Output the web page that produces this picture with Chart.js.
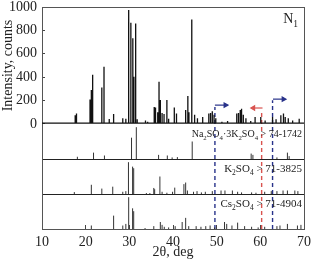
<!DOCTYPE html>
<html>
<head>
<meta charset="utf-8">
<script src="https://cdn.jsdelivr.net/npm/chart.js@4/dist/chart.umd.min.js"></script>
<style>
  html, body { margin: 0; padding: 0; background: #fff; }
  #wrap { width: 312px; height: 261px; }
</style>
</head>
<body>
<div id="wrap"><canvas id="xrd"></canvas></div>
<script>
// 実測パターン N1 (ピーク位置 2θ と強度 counts)
const specPos = [12.0, 17.6, 17.9, 21.0, 21.3, 21.6, 23.7, 24.2, 25.4, 26.4, 28.5, 29.2,
  29.85, 30.35, 30.8, 31.05, 31.45, 31.8, 33.7, 34.2, 35.7, 36.0, 36.5, 36.8, 37.1, 37.5,
  37.95, 38.6, 39.0, 40.3, 40.8, 42.9, 43.4, 43.65, 44.3, 44.95, 45.6, 46.8, 48.2, 48.6,
  49.0, 49.4, 49.8, 51.2, 52.5, 54.6, 55.0, 55.4, 55.7, 56.1, 56.7, 57.8, 58.8, 60.1,
  61.1, 62.8, 63.6, 64.7, 65.3, 65.7, 66.4, 67.4, 68.9];
const specInt = [12, 75, 90, 210, 290, 420, 313, 490, 43, 85, 50, 45,
  975, 866, 732, 404, 860, 40, 30, 20, 145, 140, 100, 362, 205, 95,
  85, 205, 45, 140, 90, 120, 240, 100, 894, 80, 50, 60, 90, 95,
  110, 80, 50, 20, 25, 90, 95, 120, 130, 80, 50, 25, 60, 60,
  30, 60, 40, 75, 90, 60, 50, 30, 45];
const specBase = 8;

// 標準パターン (PDF カード)
const naPos = [18.1, 21.8, 24.3, 30.5, 31.6, 36.7, 38.7, 39.8, 41.0, 44.4, 57.9, 58.3, 63.8, 66.2, 66.6];
const naInt = [7, 20, 11, 67, 100, 13, 11, 5, 6, 55, 17, 13, 5, 20, 9];

const kPos = [17.4, 21.3, 23.7, 26.2, 28.5, 29.2, 29.8, 30.75, 31.0, 33.9, 34.7, 35.6, 35.8,
  37.0, 37.5, 38.6, 39.9, 40.4, 42.5, 42.9, 43.3, 44.7, 45.5, 46.5, 47.4, 49.0, 51.0, 51.9,
  53.6, 54.8, 55.7, 58.0, 59.0, 61.0, 62.5, 63.8, 65.2, 66.2, 67.9, 68.6];
const kInt = [6, 29, 17, 23, 7, 9, 100, 86, 81, 3, 3, 19, 15,
  55, 7, 4, 7, 20, 31, 36, 11, 7, 9, 5, 7, 9, 11, 11,
  11, 7, 5, 5, 4, 7, 9, 9, 11, 11, 11, 9];

const csPos = [21.3, 26.4, 28.5, 29.2, 29.85, 30.75, 31.0, 33.6, 35.6, 37.1, 37.5, 38.0, 39.0,
  40.5, 42.1, 42.9, 43.6, 45.3, 46.4, 47.5, 48.5, 49.5, 51.8, 52.3, 53.5, 54.8, 56.4, 58.0,
  59.5, 61.0, 63.8, 64.5, 66.2, 68.5, 69.3];
const csInt = [11, 42, 11, 16, 100, 65, 56, 3, 9, 22, 13, 7, 5,
  9, 22, 35, 9, 9, 7, 9, 11, 5, 22, 16, 11, 20, 9, 7,
  5, 7, 9, 11, 16, 11, 13];

// 目印の縦破線 (2θ) と矢印
const markPos = [49.6, 60.3, 62.8];
const markTop = [0.55, 0.53, 0.58];      // 枠全体に対する割合
const markColor = ['#28328a', '#d9534f', '#28328a'];
const arrowFrom = [49.6, 60.5, 62.9];
const arrowTo = [52.0, 58.4, 65.3];
const arrowY = [0.558, 0.545, 0.585];

const xTicks = [10, 20, 30, 40, 50, 60, 70];
const yTicks = [0, 200, 400, 600, 800, 1000];

const serif = "'Liberation Serif', 'DejaVu Serif', serif";

// スペクトル折れ線
function spectrumPoints() {
  const pts = [{ x: 10, y: specBase }];
  specPos.forEach((p, i) => {
    pts.push({ x: p, y: specBase }, { x: p, y: specInt[i] }, { x: p, y: specBase });
  });
  pts.push({ x: 70, y: specBase });
  return pts;
}

// 棒 (スティック) パターン
function stickPoints(pos, inten) {
  const pts = [];
  pos.forEach((p, i) => {
    pts.push({ x: p, y: 0 }, { x: p, y: inten[i] }, { x: p, y: null });
  });
  return pts;
}

const datasets = [
  { data: spectrumPoints(), yAxisID: 'y', borderColor: '#111', borderWidth: 1.3 },
  { data: stickPoints(naPos, naInt), yAxisID: 'y1', borderColor: '#333', borderWidth: 1 },
  { data: stickPoints(kPos, kInt), yAxisID: 'y2', borderColor: '#333', borderWidth: 1 },
  { data: stickPoints(csPos, csInt), yAxisID: 'y3', borderColor: '#333', borderWidth: 1 }
];

markPos.forEach((p, i) => {
  datasets.push({
    data: [{ x: p, y: 0 }, { x: p, y: markTop[i] }],
    yAxisID: 'yr', borderColor: markColor[i], borderWidth: 1.4, borderDash: [4, 3]
  });
  datasets.push({
    data: [{ x: arrowFrom[i], y: arrowY[i] }, { x: arrowTo[i], y: arrowY[i] }],
    yAxisID: 'yr', borderColor: markColor[i], borderWidth: 1.2,
    pointRadius: [0, 2.5], pointStyle: 'triangle',
    pointRotation: arrowTo[i] > arrowFrom[i] ? 90 : -90,
    pointBackgroundColor: markColor[i], pointBorderColor: markColor[i]
  });
});

// 添字付きテキスト
function drawRich(ctx, parts, xRight, y, size) {
  const sub = size * 0.68;
  let w = 0;
  parts.forEach(([t, s]) => {
    ctx.font = (s ? sub : size) + 'px ' + serif;
    w += ctx.measureText(t).width;
  });
  let x = xRight - w;
  parts.forEach(([t, s]) => {
    ctx.font = (s ? sub : size) + 'px ' + serif;
    ctx.fillText(t, x, s ? y + size * 0.25 : y);
    x += ctx.measureText(t).width;
  });
}

const labelPlugin = {
  id: 'labels',
  afterDatasetsDraw(chart) {
    const ctx = chart.ctx;
    const x = chart.scales.x;
    const right = x.getPixelForValue(70) - 2;
    ctx.save();
    ctx.fillStyle = '#222';
    ctx.textBaseline = 'alphabetic';
    drawRich(ctx, [['N', 0], ['1', 1]], right - 4, chart.scales.y.getPixelForValue(860), 14);
    drawRich(ctx, [['Na', 0], ['2', 1], ['SO', 0], ['4', 1], ['·3K', 0], ['2', 1], ['SO', 0], ['4', 1], [' > 74-1742', 0]],
      right, chart.scales.y1.getPixelForValue(68), 10);
    drawRich(ctx, [['K', 0], ['2', 1], ['SO', 0], ['4', 1], [' > 71-3825', 0]],
      right, chart.scales.y2.getPixelForValue(68), 11);
    drawRich(ctx, [['Cs', 0], ['2', 1], ['SO', 0], ['4', 1], [' > 71-4904', 0]],
      right, chart.scales.y3.getPixelForValue(68), 11);
    ctx.restore();
  }
};

// 軸の幅と余白を固定
const leftWidth = (axis) => {
  axis.width = 42;
  axis.paddingTop = 0;
  axis.paddingBottom = 0;
};

const stickAxis = (w) => ({
  type: 'linear', position: 'left', stack: 'xrd', stackWeight: w,
  min: 0, max: 110,
  afterBuildTicks: (axis) => { axis.ticks = [{ value: 0 }]; },
  afterFit: leftWidth,
  ticks: { display: false },
  grid: { drawTicks: false, color: '#222', lineWidth: 1 },
  border: { color: '#555' }
});

new Chart(document.getElementById('xrd'), {
  type: 'line',
  data: { datasets: datasets },
  plugins: [labelPlugin],
  options: {
    responsive: true,
    maintainAspectRatio: false,
    animation: false,
    spanGaps: false,
    layout: { padding: { top: 7, right: 8, left: 0, bottom: 0 } },
    elements: { point: { radius: 0 }, line: { tension: 0 } },
    plugins: { legend: { display: false }, tooltip: { enabled: false } },
    scales: {
      x: {
        type: 'linear', min: 10, max: 70,
        afterBuildTicks: (axis) => { axis.ticks = xTicks.map(v => ({ value: v })); },
        afterFit: (axis) => { axis.height = 32; axis.paddingLeft = 0; axis.paddingRight = 0; },
        ticks: { font: { family: serif, size: 14 }, color: '#222', padding: 9, maxRotation: 0, autoSkip: false },
        grid: { drawOnChartArea: false, tickLength: -4, color: '#444' },
        border: { color: '#555' },
        title: { display: true, text: '2θ, deg', font: { family: serif, size: 14 }, color: '#222', padding: { top: 0, bottom: 0 } }
      },
      xt: {
        type: 'linear', position: 'top', min: 10, max: 70,
        afterFit: (axis) => { axis.height = 0; axis.paddingLeft = 0; axis.paddingRight = 0; },
        ticks: { display: false }, grid: { display: false, drawTicks: false },
        border: { color: '#555' }
      },
      // 積み重ね軸は後に定義したものが上に来る
      y3: stickAxis(35),
      y2: stickAxis(35),
      y1: stickAxis(35),
      y: {
        type: 'linear', position: 'left', stack: 'xrd', stackWeight: 117,
        min: 0, max: 1000,
        afterBuildTicks: (axis) => { axis.ticks = yTicks.map(v => ({ value: v })); },
        afterFit: leftWidth,
        ticks: {
          font: { family: serif, size: 14 }, color: '#222', padding: 8, autoSkip: false,
          callback: (value) => String(value)
        },
        grid: { drawOnChartArea: false, tickLength: -3, color: '#444' },
        border: { color: '#555' },
        title: { display: true, text: 'Intensity, counts', font: { family: serif, size: 14 }, color: '#222', padding: { top: 0, bottom: 0 } }
      },
      yr: {
        type: 'linear', position: 'right', min: 0, max: 1,
        afterFit: (axis) => { axis.width = 0; axis.paddingTop = 0; axis.paddingBottom = 0; },
        ticks: { display: false }, grid: { display: false, drawTicks: false },
        border: { color: '#555' }
      }
    }
  }
});
</script>
</body>
</html>
